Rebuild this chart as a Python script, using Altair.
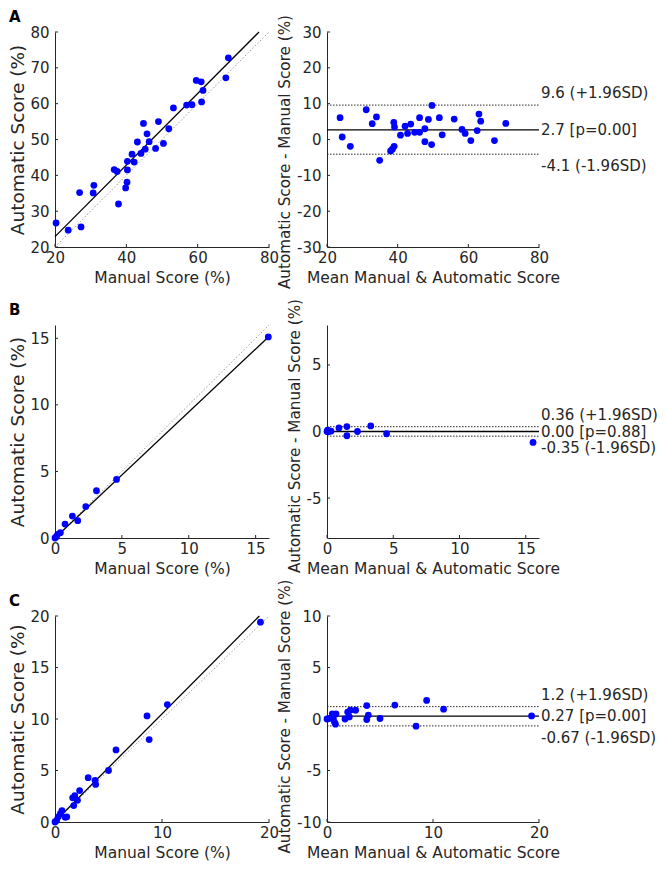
import altair as alt
import pandas as pd

# ---------------- data ----------------
letters = ["A", "B", "C"]

# Panel A (scatter)
A_manual = [20.3, 23.7, 27.3, 26.9, 30.9, 30.7, 37.8, 36.6, 37.4, 39.8, 40.2, 40.3,
            40.3, 41.6, 42.2, 43.1, 44.1, 45.3, 44.8, 45.8, 46.4, 48.2, 49.0, 50.4,
            51.9, 53.2, 56.9, 58.4, 59.6, 61.0, 61.5, 61.1, 67.9, 68.6]
A_auto = [26.7, 24.7, 25.6, 35.2, 37.2, 35.1, 32.0, 41.6, 41.1, 36.5, 38.1, 41.5,
          43.9, 45.9, 43.7, 49.3, 46.1, 47.3, 54.5, 51.6, 49.4, 47.5, 55.0, 48.9,
          53.0, 58.8, 59.6, 59.7, 66.5, 66.1, 63.7, 60.5, 67.2, 72.8]
A_reg_x = [20, 77.2]
A_reg_y = [22.9, 80]
# Panel A (Bland-Altman)
A_mean = [23.7, 24.3, 26.6, 31.1, 32.8, 34.0, 34.9, 38.0, 38.5, 39.0, 38.9, 39.1,
          40.8, 42.1, 42.8, 43.7, 44.8, 46.2, 46.2, 47.7, 47.7, 48.7, 49.6, 49.7,
          51.8, 52.6, 56.0, 58.2, 59.1, 60.7, 62.5, 63.0, 63.5, 67.4, 70.6]
A_diff = [6.1, 0.7, -1.9, 8.3, 4.4, 6.3, -5.8, -3.2, -2.7, -1.9, 4.8, 3.5,
          1.2, 3.7, 1.7, 4.3, 2.0, 2.0, 6.1, -0.6, 3.0, 5.6, -1.4, 9.5,
          6.1, 1.3, 5.7, 2.8, 1.7, -0.3, 2.5, 7.1, 5.1, -0.3, 4.5]
A_lines = [9.6, 2.7, -4.1]
A_labels = ["9.6 (+1.96SD)", "2.7 [p=0.00]", "-4.1 (-1.96SD)"]

# Panel B
B_manual = [0.0, 0.1, 0.2, 0.4, 0.75, 1.3, 1.7, 2.3, 3.1, 4.6, 15.95]
B_auto = [0.0, 0.1, 0.28, 0.4, 1.05, 1.65, 1.3, 2.35, 3.55, 4.4, 15.1]
B_reg_x = [0, 15.96]
B_reg_y = [0, 15.1]
B_mean = [0.0, 0.05, 0.1, 0.3, 0.9, 1.5, 1.5, 2.3, 3.3, 4.5, 15.55]
B_diff = [0.0, 0.1, -0.02, 0.02, 0.27, 0.37, -0.32, 0.0, 0.42, -0.17, -0.82]
B_lines = [0.36, 0.00, -0.35]
B_labels = ["0.36 (+1.96SD)", "0.00 [p=0.88]", "-0.35 (-1.96SD)"]

# Panel C
C_manual = [0.0, 0.15, 0.3, 0.5, 0.65, 0.95, 1.1, 1.75, 1.65, 1.85, 2.1, 2.3,
            3.1, 3.75, 3.8, 5.0, 5.7, 8.6, 8.8, 10.5, 19.2]
C_auto = [0.0, 0.15, 0.5, 0.8, 1.1, 0.45, 0.5, 1.6, 2.35, 2.55, 2.1, 3.05,
          4.3, 4.05, 3.65, 5.0, 7.0, 10.3, 8.0, 11.4, 19.4]
C_reg_x = [0, 19.1]
C_reg_y = [0.05, 20]
C_mean = [0.0, 0.2, 0.5, 0.85, 0.7, 0.8, 1.7, 1.95, 2.1, 2.2, 2.7, 3.75,
          3.75, 3.9, 5.0, 6.4, 8.4, 9.4, 11.0, 19.3, 0.6]
C_diff = [0.0, 0.05, 0.5, 0.5, -0.3, -0.5, 0.0, 0.67, 0.2, 0.85, 0.85, 1.3,
          -0.05, 0.38, 0.05, 1.35, -0.7, 1.8, 0.95, 0.3, 0.1]
C_lines = [1.2, 0.27, -0.67]
C_labels = ["1.2 (+1.96SD)", "0.27 [p=0.00]", "-0.67 (-1.96SD)"]

# axis domains / ticks
A_dom, A_ticks_x, A_ticks_y = [20, 80], [20, 40, 60, 80], [20, 30, 40, 50, 60, 70, 80]
A_ba_ydom, A_ba_yticks = [-30, 30], [-30, -20, -10, 0, 10, 20, 30]
B_dom, B_ticks_x, B_ticks_y = [0, 16], [0, 5, 10, 15], [0, 5, 10, 15]
B_ba_ydom, B_ba_yticks = [-8, 8], [-5, 0, 5]
C_dom, C_ticks_x, C_ticks_y = [0, 20], [0, 10, 20], [0, 5, 10, 15, 20]
C_ba_ydom, C_ba_yticks = [-10, 10], [-10, -5, 0, 5, 10]

# ---------------- styling ----------------
FONT = "DejaVu Sans"
INK = "#262626"
BLUE = "#0000ff"
W_LEFT = 214
W_RIGHT = 212
HEIGHTS = [215, 213, 206]
TITLE_SHIFT = [12, 4, -3]
TICK = 3


def make_axis(values, title, title_size, label_pad, title_pad, title_y=None):
    kw = dict(values=values, title=title, ticks=False, tickSize=0, grid=False,
              domainColor=INK, domainWidth=1, labelFont=FONT, labelFontSize=15,
              labelColor=INK, labelFlush=False, labelOverlap=False,
              labelPadding=label_pad, labelExpr="'' + datum.value",
              titleFont=FONT, titleFontSize=title_size, titleFontWeight="normal",
              titleColor=INK, titlePadding=title_pad)
    if title_y is not None:
        kw["titleY"] = title_y
    return alt.Axis(**kw)


def tick_layers(xf, yf, xs, ys, xax, yax, xticks, yticks, h):
    ry = alt.Chart(pd.DataFrame({yf: yticks})).mark_rule(color=INK, strokeWidth=1).encode(
        y=alt.Y(f"{yf}:Q", scale=ys, axis=yax), x=alt.value(0), x2=alt.value(TICK))
    rx = alt.Chart(pd.DataFrame({xf: xticks})).mark_rule(color=INK, strokeWidth=1).encode(
        x=alt.X(f"{xf}:Q", scale=xs, axis=xax), y=alt.value(h), y2=alt.value(h - TICK))
    return [ry, rx]


def scatter_panel(letter, xs_, ys_, reg_x, reg_y, dom, xt, yt, h):
    sc = alt.Scale(domain=dom, nice=False, zero=False)
    xax = make_axis(xt, "Manual Score (%)", 15.5, 3, 5)
    yax = make_axis(yt, "Automatic Score (%)", 18.5, 6, 2)
    X = alt.X("m:Q", scale=sc, axis=xax)
    Y = alt.Y("a:Q", scale=sc, axis=yax)
    ident = alt.Chart(pd.DataFrame({"m": dom, "a": dom})).mark_line(
        color="#9c9c9c", strokeDash=[1.5, 2], strokeWidth=1).encode(x=X, y=Y)
    reg = alt.Chart(pd.DataFrame({"m": reg_x, "a": reg_y})).mark_line(
        color="black", strokeWidth=1.3).encode(x=X, y=Y)
    pts = alt.Chart(pd.DataFrame({"m": xs_, "a": ys_})).mark_circle(
        size=46, color=BLUE, opacity=1).encode(x=X, y=Y)
    lab = alt.Chart(pd.DataFrame({"letter": [letter]})).mark_text(
        font=FONT, fontSize=15, fontWeight="bold", color="black", align="left",
        baseline="alphabetic").encode(x=alt.value(-46), y=alt.value(-10), text="letter:N")
    layers = [ident, reg] + tick_layers("m", "a", sc, sc, xax, yax, xt, yt, h) + [pts, lab]
    return alt.layer(*layers).properties(width=W_LEFT, height=h)


def ba_panel(mx, dy, xdom, xt, ydom, yt, lines, labels, h, shift):
    sx = alt.Scale(domain=xdom, nice=False, zero=False)
    sy = alt.Scale(domain=ydom, nice=False, zero=False)
    xax = make_axis(xt, "Mean Manual & Automatic Score", 15.5, 3, 5)
    yax = make_axis(yt, "Automatic Score - Manual Score (%)", 15.2, 6, 4,
                    title_y=h / 2 + shift)
    X = alt.X("x:Q", scale=sx, axis=xax)
    Y = alt.Y("y:Q", scale=sy, axis=yax)
    ldf = pd.DataFrame({"x": [xdom[0]] * 3, "x1": [xdom[1]] * 3, "y": lines,
                        "lab": labels, "k": ["up", "mid", "low"]})
    dotted = alt.Chart(ldf[ldf.k != "mid"]).mark_rule(
        color=INK, strokeDash=[1.5, 1.5], strokeWidth=1).encode(x=X, x2="x1:Q", y=Y)
    solid = alt.Chart(ldf[ldf.k == "mid"]).mark_rule(
        color="black", strokeWidth=1.3).encode(x=X, x2="x1:Q", y=Y)
    pts = alt.Chart(pd.DataFrame({"x": mx, "y": dy})).mark_circle(
        size=46, color=BLUE, opacity=1).encode(x=X, y=Y)
    texts = []
    for k, base, off in [("up", "bottom", -4), ("mid", "middle", 0), ("low", "top", 5)]:
        texts.append(alt.Chart(ldf[ldf.k == k]).mark_text(
            font=FONT, fontSize=15, color=INK, align="left", baseline=base,
            dx=2, dy=off).encode(x=alt.X("x1:Q", scale=sx, axis=xax), y=Y, text="lab:N"))
    layers = [dotted, solid] + tick_layers("x", "y", sx, sy, xax, yax, xt, yt, h) + [pts] + texts
    return alt.layer(*layers).properties(width=W_RIGHT, height=h)


panels = []
specs = [
    (A_manual, A_auto, A_reg_x, A_reg_y, A_dom, A_ticks_x, A_ticks_y,
     A_mean, A_diff, A_dom, A_ticks_x, A_ba_ydom, A_ba_yticks, A_lines, A_labels),
    (B_manual, B_auto, B_reg_x, B_reg_y, B_dom, B_ticks_x, B_ticks_y,
     B_mean, B_diff, B_dom, B_ticks_x, B_ba_ydom, B_ba_yticks, B_lines, B_labels),
    (C_manual, C_auto, C_reg_x, C_reg_y, C_dom, C_ticks_x, C_ticks_y,
     C_mean, C_diff, C_dom, C_ticks_x, C_ba_ydom, C_ba_yticks, C_lines, C_labels),
]
for i, s in enumerate(specs):
    h = HEIGHTS[i]
    panels.append(scatter_panel(letters[i], s[0], s[1], s[2], s[3], s[4], s[5], s[6], h))
    panels.append(ba_panel(s[7], s[8], s[9], s[10], s[11], s[12], s[13], s[14], h,
                           TITLE_SHIFT[i]))

chart = alt.concat(*panels, columns=2, spacing={"row": 78, "column": 58},
                   bounds="flush", align="each").properties(
    padding={"top": 2, "left": 0, "right": 0, "bottom": 0}, background="white"
).configure_view(stroke=None)

chart.save("out.html", embed_options={"renderer": "svg", "actions": False})
